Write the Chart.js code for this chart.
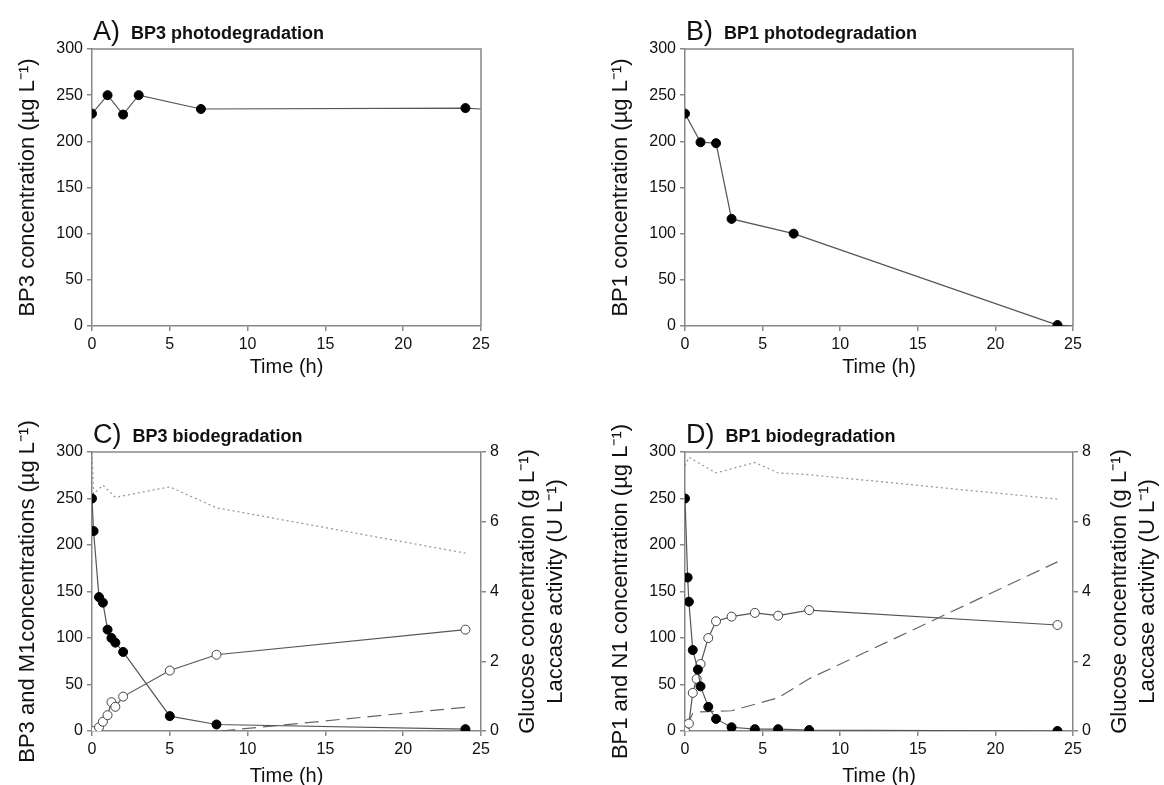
<!DOCTYPE html>
<html>
<head>
<meta charset="utf-8">
<script src="https://cdn.jsdelivr.net/npm/chart.js@4.4.0/dist/chart.umd.min.js"></script>
<style>
  body { margin: 0; background: #fff; width: 1164px; height: 785px; position: relative; overflow: hidden; }
  canvas { position: absolute; }
</style>
</head>
<body>
<canvas id="chartA" width="582" height="380" style="left:0;top:0"></canvas>
<canvas id="chartB" width="582" height="380" style="left:582px;top:0"></canvas>
<canvas id="chartC" width="582" height="405" style="left:0;top:380px"></canvas>
<canvas id="chartD" width="582" height="405" style="left:582px;top:380px"></canvas>
<script>
// A) BP3 photodegradation
const timeA = [0, 1, 2, 3, 7, 24, 25]
const bp3Photo = [230, 250, 229, 250, 235, 236, 235]

// B) BP1 photodegradation
const timeB = [0, 1, 2, 3, 7, 24, 25]
const bp1Photo = [230, 199, 198, 116, 100, 1, 0]

// C) BP3 biodegradation
const timeC_bp3 = [0, 0.1, 0.45, 0.7, 1, 1.25, 1.5, 2, 5, 8, 24]
const bp3Bio = [250, 215, 144, 138, 109, 100, 95, 85, 16, 7, 2]
const timeC_m1 = [0, 0.45, 0.7, 1, 1.25, 1.5, 2, 5, 8, 24]
const m1Bio = [0, 4, 10, 17, 31, 26, 37, 65, 82, 109]
const timeC_glu = [0, 0.1, 0.7, 1.5, 5, 8, 24]
const glucoseC = [8, 6.8, 7.05, 6.7, 7.0, 6.4, 5.1]
const timeC_lac = [8.3, 24]
const laccaseC = [0, 0.68]

// D) BP1 biodegradation
const timeD_bp1 = [0, 0.17, 0.25, 0.5, 0.83, 1, 1.5, 2, 3, 4.5, 6, 8, 24]
const bp1Bio = [250, 165, 139, 87, 66, 48, 26, 13, 4, 2, 2, 1, 0]
const timeD_n1 = [0, 0.25, 0.5, 0.75, 1, 1.5, 2, 3, 4.5, 6, 8, 24]
const n1Bio = [0, 8, 41, 56, 72, 100, 118, 123, 127, 124, 130, 114]
const timeD_glu = [0, 0.25, 2, 4.5, 6, 8, 24]
const glucoseD = [7.6, 7.85, 7.4, 7.7, 7.4, 7.35, 6.65]
const timeD_lac = [0.1, 0.5, 1, 3, 6, 8, 24]
const laccaseD = [0.15, 0.5, 0.55, 0.58, 0.95, 1.5, 4.85]

const xTicks = [0, 5, 10, 15, 20, 25]
const FONT = "'Liberation Sans', Arial, sans-serif"
const AXIS = '#888'

function pts(xs, ys) {
  return xs.map((x, i) => ({ x: x, y: ys[i] }))
}

// panel label, box lines and rotated axis titles
const decor = {
  id: 'decor',
  afterDraw(chart, args, o) {
    const ctx = chart.ctx
    const a = chart.chartArea
    ctx.save()
    ctx.strokeStyle = AXIS
    ctx.lineWidth = 1.5
    ctx.beginPath()
    ctx.moveTo(a.left, a.top)
    ctx.lineTo(a.right, a.top)
    if (o.box) ctx.lineTo(a.right, a.bottom)
    ctx.stroke()

    ctx.fillStyle = '#111'
    ctx.textAlign = 'left'
    ctx.textBaseline = 'alphabetic'
    ctx.font = '27px ' + FONT
    ctx.fillText(o.letter, a.left + 1, a.top - 9)
    const w = ctx.measureText(o.letter).width
    ctx.font = 'bold 18px ' + FONT
    ctx.fillText(o.title, a.left + w + 12, a.top - 10)

    ctx.font = '20px ' + FONT
    ctx.textAlign = 'center'
    ctx.textBaseline = 'middle'
    ctx.fillText('Time (h)', (a.left + a.right) / 2, a.bottom + o.xTitleGap)

    const cy = (a.top + a.bottom) / 2
    const rot = (x, text) => {
      ctx.save()
      ctx.translate(x, cy)
      ctx.rotate(-Math.PI / 2)
      ctx.fillText(text, 0, 0)
      ctx.restore()
    }
    ctx.font = '22px ' + FONT
    rot(a.left - 64, o.yTitle)
    if (o.rightTitles) {
      rot(a.right + 47, o.rightTitles[0])
      rot(a.right + 75, o.rightTitles[1])
    }
    ctx.restore()
  }
}

function axis(min, max, step, pos, fit) {
  return {
    type: 'linear',
    position: pos,
    min: min,
    max: max,
    ticks: { stepSize: step, color: '#111', font: { family: FONT, size: 16 }, padding: 4 },
    grid: { drawOnChartArea: false, drawTicks: true, tickLength: 5, color: AXIS, lineWidth: 1.5 },
    border: { color: AXIS, width: 1.5 },
    afterFit: fit
  }
}

function filled(xs, ys) {
  return {
    data: pts(xs, ys), showLine: true, borderColor: '#555', borderWidth: 1.2,
    pointRadius: xs.map(x => x > 24 ? 0 : 4.5), pointBackgroundColor: '#000', pointBorderColor: '#000',
    pointBorderWidth: 1, yAxisID: 'y', order: 1
  }
}

function open(xs, ys) {
  return {
    data: pts(xs, ys), showLine: true, borderColor: '#555', borderWidth: 1.2,
    pointRadius: 4.5, pointBackgroundColor: '#fff', pointBorderColor: '#444',
    pointBorderWidth: 1, yAxisID: 'y', order: 2
  }
}

function glucose(xs, ys) {
  return {
    data: pts(xs, ys), showLine: true, borderColor: '#9a9a9a', borderWidth: 1.3,
    borderDash: [2, 3], pointRadius: 0, yAxisID: 'y2', order: 4
  }
}

function laccase(xs, ys) {
  return {
    data: pts(xs, ys), showLine: true, borderColor: '#666', borderWidth: 1.2,
    borderDash: [14, 7], pointRadius: 0, yAxisID: 'y2', order: 3
  }
}

function makeChart(id, datasets, leftW, padRight, padTop, deco, twoAxes) {
  const scales = {
    x: axis(0, 25, 5, 'bottom', s => { s.height = 54 }),
    y: axis(0, 300, 50, 'left', s => { s.width = leftW })
  }
  scales.x.afterBuildTicks = s => { s.ticks = xTicks.map(v => ({ value: v })) }
  if (twoAxes) scales.y2 = axis(0, 8, 2, 'right', s => { s.width = 40 })
  return new Chart(document.getElementById(id).getContext('2d'), {
    type: 'scatter',
    data: { datasets: datasets },
    options: {
      responsive: false,
      animation: false,
      layout: { padding: { top: padTop, right: padRight, left: 0, bottom: 0 } },
      plugins: { legend: { display: false }, tooltip: { enabled: false }, decor: deco },
      scales: scales
    },
    plugins: [decor]
  })
}

makeChart('chartA', [filled(timeA, bp3Photo)], 92, 101, 49,
  { letter: 'A)', title: 'BP3 photodegradation', box: true, xTitleGap: 41,
    yTitle: 'BP3 concentration (µg L⁻¹)' }, false)

makeChart('chartB', [filled(timeB, bp1Photo)], 103, 91, 49,
  { letter: 'B)', title: 'BP1 photodegradation', box: true, xTitleGap: 41,
    yTitle: 'BP1 concentration (µg L⁻¹)' }, false)

makeChart('chartC', [
  filled(timeC_bp3, bp3Bio), open(timeC_m1, m1Bio),
  glucose(timeC_glu, glucoseC), laccase(timeC_lac, laccaseC)
], 92, 61, 72,
  { letter: 'C)', title: 'BP3 biodegradation', box: false, xTitleGap: 45,
    yTitle: 'BP3 and M1concentrations (µg L⁻¹)',
    rightTitles: ['Glucose concentration (g L⁻¹)', 'Laccase activity (U L⁻¹)'] }, true)

makeChart('chartD', [
  filled(timeD_bp1, bp1Bio), open(timeD_n1, n1Bio),
  glucose(timeD_glu, glucoseD), laccase(timeD_lac, laccaseD)
], 103, 51, 72,
  { letter: 'D)', title: 'BP1 biodegradation', box: false, xTitleGap: 45,
    yTitle: 'BP1 and N1 concentration (µg L⁻¹)',
    rightTitles: ['Glucose concentration (g L⁻¹)', 'Laccase activity (U L⁻¹)'] }, true)
</script>
</body>
</html>
